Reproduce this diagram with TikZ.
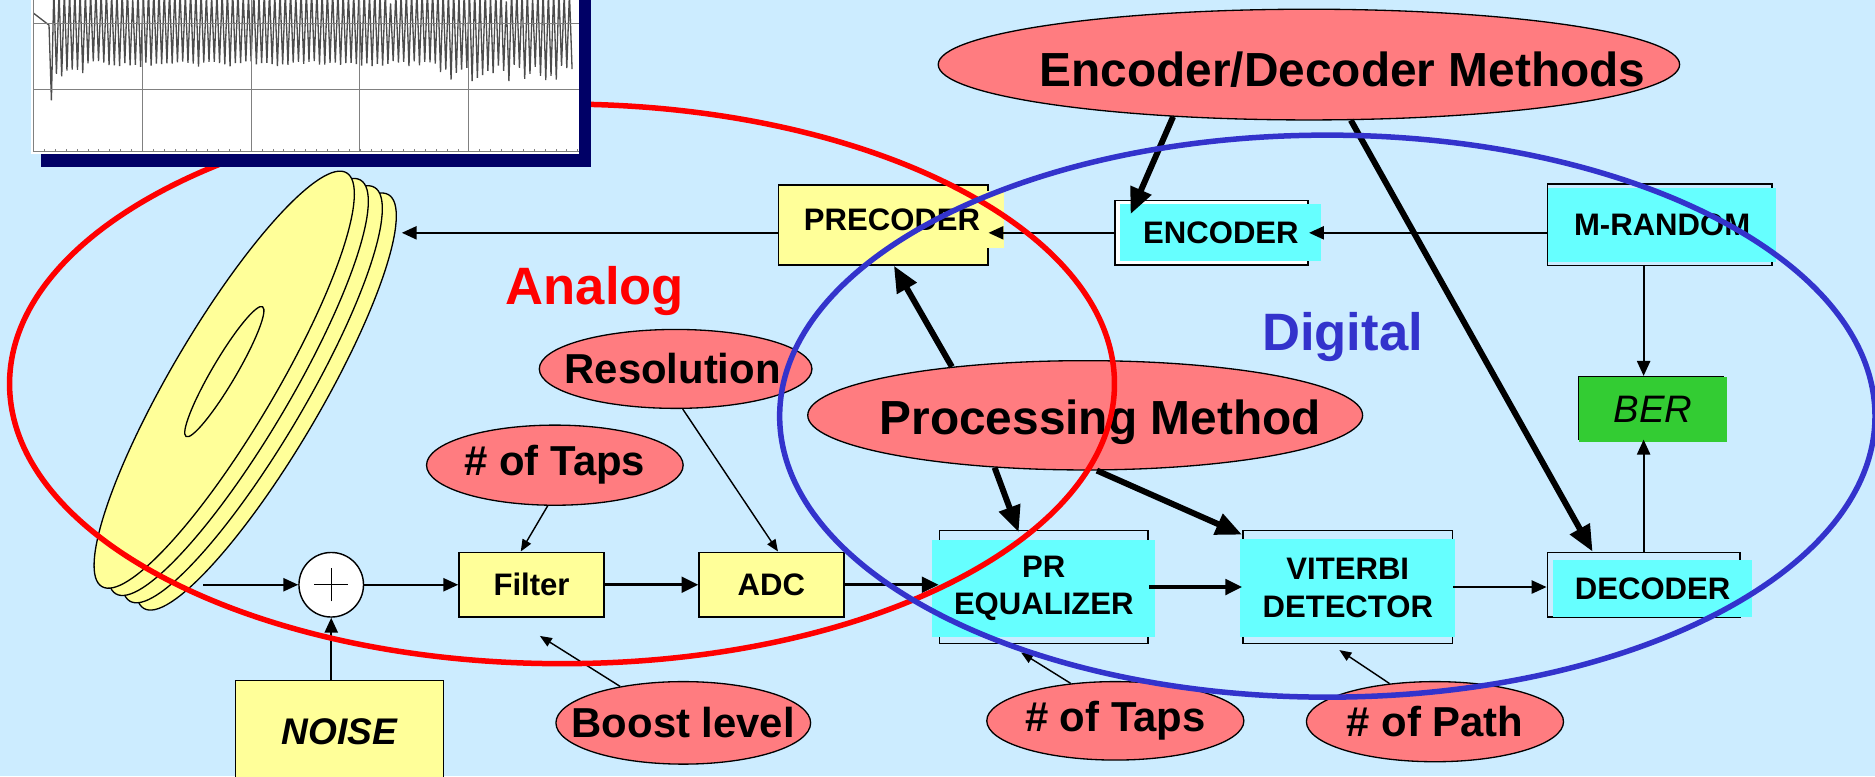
\documentclass[tikz,border=0pt]{standalone}
\usepackage{fontspec}
\setmainfont{Liberation Sans}
\usetikzlibrary{arrows.meta, shapes.geometric}
\definecolor{sky}{HTML}{CCECFF}
\definecolor{boxyellow}{HTML}{FFFF99}
\definecolor{boxcyan}{HTML}{66FFFF}
\definecolor{bergreen}{HTML}{33CC33}
\definecolor{tagpink}{HTML}{FF7C80}
\definecolor{ringred}{HTML}{FF0000}
\definecolor{ringblue}{HTML}{3333CC}
\definecolor{shadownavy}{HTML}{000066}
\newcommand{\boxfont}{\fontsize{26}{31}\selectfont\bfseries}
\newcommand{\tagfont}{\fontsize{35}{40}\selectfont\bfseries}
\newcommand{\bigfont}{\fontsize{40}{46}\selectfont\bfseries}
\newcommand{\zonefont}{\fontsize{44}{50}\selectfont\bfseries}

\begin{document}
\begin{tikzpicture}[x=1pt, y=-1pt,
    boxframe/.style={draw, line width=1.3pt, inner sep=0pt},
    boxface/.style={inner sep=0pt, align=center, font=\boxfont},
    box/.style={boxframe, fill=boxyellow, font=\boxfont},
    tag/.style={ellipse, draw, fill=tagpink, line width=1.1pt, inner sep=0pt},
    wire/.style={-{Triangle[length=12.5pt, width=11pt]}, line width=1.7pt},
    bus/.style={-{Triangle[length=14pt, width=13pt]}, line width=2.8pt},
    hint/.style={-{Triangle[length=10pt, width=8pt]}, line width=1.2pt},
    push/.style={-{Triangle[length=22pt, width=18pt]}, line width=5pt},
    ring/.style={line width=4.6pt},
    disc/.style={draw, fill=boxyellow, line width=1.1pt}]
  \useasboundingbox (0,0) rectangle (1568,649);
  \clip (0,0) rectangle (1568,649);
  \fill[sky] (0,0) rectangle (1568,649);

  % stacked platters
  \foreach \k in {3,2,1,0}
    \draw[disc, shift={(11.7*\k,6.1*\k)}, rotate around={59.4:(187.5,317.5)}]
      (187.5,317.5) ellipse [x radius=201, y radius=43];
  \draw[line width=1.1pt, rotate around={59.5:(187.6,310.8)}]
    (187.6,310.8) ellipse [x radius=63, y radius=10];
  \coordinate (disk-in) at (336,194.7);
  \coordinate (disk-out) at (170,489);

  % write path
  \node[boxframe, fill=boxyellow, minimum width=175pt, minimum height=67pt,
    label={[boxface, fill=boxyellow, minimum width=188pt, minimum height=47pt, xshift=7.5pt, yshift=4.5pt]center:PRECODER}] (prec) at (738.5,188) {};
  \node[boxframe, fill=white, minimum width=161.5pt, minimum height=53.8pt,
    label={[boxface, fill=boxcyan, minimum width=168pt, minimum height=47.4pt, xshift=7.7pt]center:ENCODER}] (enc) at (1013.3,194.7) {};
  \node[boxframe, minimum width=188pt, minimum height=68pt,
    label={[boxface, fill=boxcyan, minimum width=191pt, minimum height=62pt, xshift=2pt]center:M-RANDOM}] (mrand) at (1388,188) {};
  \node[boxframe, minimum width=121pt, minimum height=52pt,
    label={[boxface, fill=bergreen, minimum width=123.5pt, minimum height=54.4pt, xshift=1.7pt, yshift=-1.2pt, font=\fontsize{32}{36}\selectfont\itshape]center:BER}] (ber) at (1380.5,341) {};

  % read path
  \node[circle, draw, fill=white, line width=1.2pt, minimum size=54pt, inner sep=0pt] (add) at (277,489) {};
  \draw[line width=1pt] ([xshift=-14pt]add.center) -- ([xshift=14pt]add.center)
    ([yshift=-14pt]add.center) -- ([yshift=14pt]add.center);
  \node[box, minimum width=173.7pt, minimum height=86pt, font=\fontsize{31}{36}\selectfont\bfseries\itshape] (noise) at (283.9,612) {NOISE};
  \node[box, minimum width=121.3pt, minimum height=54.3pt] (filt) at (444.5,489) {Filter};
  \node[box, minimum width=121pt, minimum height=54.3pt] (adc) at (645.1,489) {ADC};
  \node[boxframe, minimum width=174.7pt, minimum height=94.2pt,
    label={[boxface, fill=boxcyan, minimum width=186.7pt, minimum height=80.8pt, yshift=-1.1pt]center:PR\\EQUALIZER}] (peq) at (872.9,490.9) {};
  \node[boxframe, minimum width=175.4pt, minimum height=94.2pt,
    label={[boxface, fill=boxcyan, minimum width=179.7pt, minimum height=81.4pt, yshift=-0.8pt]center:VITERBI\\DETECTOR}] (vit) at (1127.1,490.9) {};
  \node[boxframe, minimum width=161pt, minimum height=54pt,
    label={[boxface, fill=boxcyan, minimum width=166pt, minimum height=47.7pt, xshift=7.5pt, yshift=-3.2pt]center:DECODER}] (dec) at (1374.5,489) {};

  % parameters
  \node[tag, minimum width=620pt, minimum height=92.6pt,
    label={[font=\bigfont, xshift=28pt, yshift=-4pt]center:Encoder/Decoder Methods}] (edm) at (1094.6,54) {};
  \node[tag, minimum width=464pt, minimum height=91.4pt,
    label={[font=\bigfont, xshift=12.5pt, yshift=-6pt]center:Processing Method}] (proc) at (907.5,347.3) {};
  \node[tag, minimum width=228pt, minimum height=66pt,
    label={[font=\tagfont, xshift=-2.5pt]center:Resolution}] (res) at (565,308.5) {};
  \node[tag, minimum width=214.6pt, minimum height=67pt,
    label={[font=\tagfont]center:\# of Taps}] (tapsA) at (464,389) {};
  \node[tag, minimum width=213pt, minimum height=69pt,
    label={[font=\tagfont]center:Boost level}] (boost) at (571.4,604.5) {};
  \node[tag, minimum width=215pt, minimum height=65.6pt,
    label={[font=\tagfont]center:\# of Taps}] (tapsB) at (932.7,602.8) {};
  \node[tag, minimum width=215pt, minimum height=67pt,
    label={[font=\tagfont]center:\# of Path}] (paths) at (1200,603.5) {};

  % signal flow
  \draw[wire] (mrand.west |- enc.east) -- (enc.east);
  \draw[wire] (enc.west) -- (prec.east |- enc.west);
  \draw[wire] (prec.west |- enc.west) -- (disk-in);
  \draw[wire] (disk-out) -- (add.west);
  \draw[wire] (add.east) -- (filt.west);
  \draw[bus] (filt.east) -- (adc.west);
  \draw[bus] (adc.east) -- (peq.west |- adc.east);
  \draw[bus] (peq.east) -- (vit.west);
  \draw[wire] (vit.east) -- (dec.west |- vit.east);
  \draw[wire] (dec.north) -- (dec.north |- ber.south);
  \draw[wire] (dec.north |- mrand.south) -- (dec.north |- ber.north);
  \draw[wire] (add.south |- noise.north) -- (add.south);

  % parameter arrows
  \draw[hint] (res.-80) -- ([xshift=5.5pt]adc.north);
  \draw[hint] (tapsA.260) -- ([xshift=-9pt]filt.north);
  \draw[hint] (boost.150) -- ([shift={(7,15)}]filt.south);
  \draw[hint] (tapsB.140) -- ([shift={(-19,7)}]peq.south);
  \draw[hint] (paths.140) -- ([shift={(-7,5)}]vit.south);
  \draw[push] (edm.201) -- ([shift={(13.5,12)}]enc.north west);
  \draw[push] (edm.307) -- ([xshift=38.5pt]dec.north west);
  \draw[push] (proc.160) -- ([xshift=9pt]prec.south);
  \draw[push] (proc.210) -- ([shift={(-21,2)}]peq.north);
  \draw[push] (proc.282) -- ([shift={(0,4)}]vit.north west);

  % domains
  \node[font=\zonefont, text=ringred, anchor=base] (analog) at (497.5,255) {Analog};
  \node[font=\zonefont, text=ringblue, anchor=base] (digital) at (1122.7,292.7) {Digital};
  \draw[ring, ringred] (470,321) ellipse [x radius=462, y radius=234];
  \draw[ring, ringblue] (1110,348) ellipse [x radius=458, y radius=235];

  % readback waveform inset
  \fill[shadownavy] (34,-10) rectangle (494,139.4);
  \fill[white] (26,-10) rectangle (484.6,128.8);
  \pgfmathsetseed{7}
  \draw[black!70, line width=1.1pt] (28,11) -- (41,21) -- (43,84) -- (45,-8)
    \foreach \i in {1,...,197} { -- ({45+2.2*\i}, {ifthenelse(mod(\i,2)==1, ifthenelse(45+2.2*\i<70, 58+6*rnd, ifthenelse(45+2.2*\i>364, 54+14*rnd, 51+5*rnd)), -8+14*rnd*rnd*rnd)}) };
  \foreach \gx in {119,210,301,392}
    \draw[gray, line width=0.9pt] (\gx,-10) -- (\gx,127);
  \foreach \gy in {20,74.5}
    \draw[gray, line width=0.9pt] (28,\gy) -- (484,\gy);
  \draw[gray, line width=0.9pt] (28,-10) -- (28,127) -- (484,127);
  \foreach \t in {0,...,50}
    \draw[gray, line width=0.5pt] (28+9.1*\t,127) -- ++(0,-2.5);
\end{tikzpicture}
\end{document}
